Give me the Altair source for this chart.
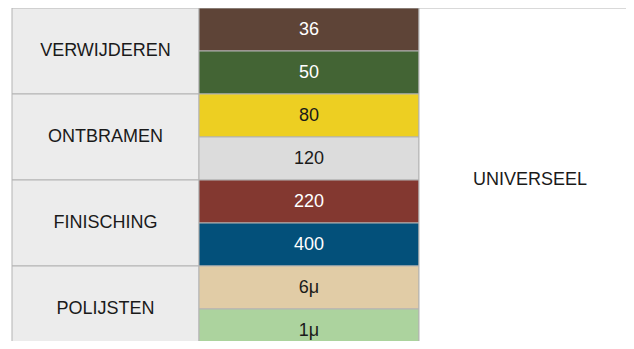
import altair as alt
import pandas as pd

# ---- data ----
categories = ["VERWIJDEREN", "ONTBRAMEN", "FINISCHING", "POLIJSTEN"]
grades = ["36", "50", "80", "120", "220", "400", "6μ", "1μ"]
grade_colors = ["#5e4437", "#436434", "#edcf22", "#dcdcdc",
                "#833830", "#03507a", "#e1cca6", "#acd39e"]
grade_text_colors = ["#ffffff", "#ffffff", "#1a1a1a", "#1a1a1a",
                     "#ffffff", "#ffffff", "#1a1a1a", "#1a1a1a"]
universal_label = "UNIVERSEEL"

# ---- layout (column widths in x-units) ----
col_w = [187, 220, 222]
edges = [0, col_w[0], col_w[0] + col_w[1], sum(col_w)]

rows = []
for j, c in enumerate(categories):
    rows.append(dict(x=edges[0], x2=edges[1], y=2 * j, y2=2 * j + 2,
                     fill="#ececec", label=c, tcolor="#1a1a1a"))
for i, g in enumerate(grades):
    rows.append(dict(x=edges[1], x2=edges[2], y=i, y2=i + 1,
                     fill=grade_colors[i], label=g, tcolor=grade_text_colors[i]))
rows.append(dict(x=edges[2], x2=edges[3], y=0, y2=len(grades),
                 fill="#ffffff", label=universal_label, tcolor="#1a1a1a"))
df = pd.DataFrame(rows)
df["xm"] = (df["x"] + df["x2"]) / 2
df["ym"] = (df["y"] + df["y2"]) / 2

row_h = 43
H = 333
W = 618
xs = alt.Scale(domain=[-4, W - 4])
ys = alt.Scale(domain=[0, H / row_h], reverse=True)

base = alt.Chart(df)
rects = base.mark_rect(stroke="#b3b3b3", strokeWidth=1).encode(
    x=alt.X("x:Q", scale=xs, axis=None),
    x2="x2:Q",
    y=alt.Y("y:Q", scale=ys, axis=None),
    y2="y2:Q",
    fill=alt.Fill("fill:N", scale=None),
)
texts = base.mark_text(font="Liberation Sans", fontSize=18, align="center",
                       baseline="middle").encode(
    x=alt.X("xm:Q", scale=xs, axis=None),
    y=alt.Y("ym:Q", scale=ys, axis=None),
    text="label:N",
    color=alt.Color("tcolor:N", scale=None),
)

chart = (rects + texts).properties(
    width=W, height=H, padding=0,
    autosize=alt.AutoSizeParams(type="none"),
).configure_view(stroke=None)

chart.save("out.html", embed_options={"renderer": "svg", "actions": False})
